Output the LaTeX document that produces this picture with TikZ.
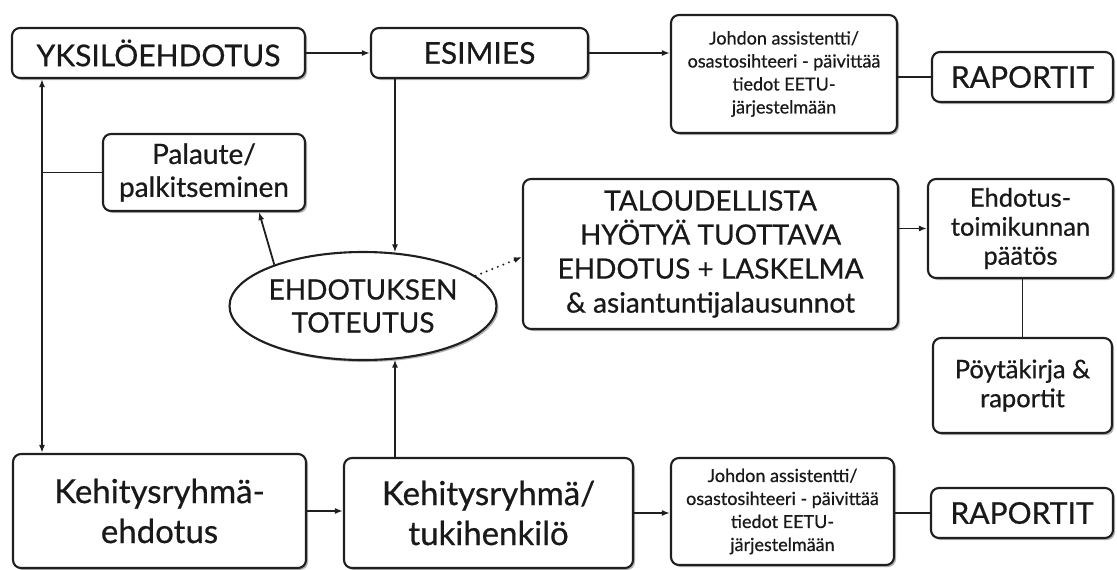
\documentclass[tikz,border=0pt]{standalone}
\usepackage{fontspec}
\setmainfont{Lato}[FakeBold=0.6]
\usetikzlibrary{arrows.meta,shapes.geometric,shadows}
\begin{document}
\begin{tikzpicture}[x=1pt,y=-1pt,
  box/.style={draw=black!88, line width=2.1pt, rounded corners=8pt, fill=white,
    align=center, inner sep=0pt, text=black!90,
    drop shadow={shadow xshift=2pt, shadow yshift=-2pt, opacity=0.3, fill=black}},
  oval/.style={box, ellipse, rounded corners=0pt},
  arr/.style={draw=black!88, line width=1.8pt, -{Latex[length=8pt,width=6pt]}},
  biarr/.style={draw=black!88, line width=1.8pt, {Latex[length=8pt,width=6pt]}-{Latex[length=8pt,width=6pt]}},
  link/.style={draw=black!88, line width=1.8pt},
  dots/.style={draw=black!88, line width=2.2pt, line cap=round, dash pattern=on 0pt off 6pt, -{Latex[length=8pt,width=6pt]}},
  big/.style={font=\fontsize{33}{40}\selectfont},
  head/.style={font=\fontsize{30}{34}\selectfont},
  mid/.style={font=\fontsize{28}{33}\selectfont},
  small/.style={font=\fontsize{25.5}{29}\selectfont},
  tiny/.style={font=\fontsize{18}{23}\selectfont}]
\useasboundingbox (0,0) rectangle (1117,570);

% top row
\node[box, head, minimum width=293pt, minimum height=50pt] (yks) at (158.5,53) {YKSILÖEHDOTUS};
\node[box, head, minimum width=217pt, minimum height=50pt] (esi) at (479.5,53) {ESIMIES};
\node[box, tiny, minimum width=226pt, minimum height=118pt] (joh1) at (784,74)
  {Johdon assistentti/\\osastosihteeri - päivittää\\tiedot EETU-\\järjestelmään};
\node[box, head, minimum width=181pt, minimum height=50pt] (rap1) at (1022.5,77) {RAPORTIT};

% middle
\node[box, mid, minimum width=202pt, minimum height=77pt] (pal) at (204,172.5) {Palaute/\\palkitseminen};
\node[oval, mid, minimum width=261pt, minimum height=108pt] (ell) at (363,306) {EHDOTUKSEN\\TOTEUTUS};
\node[box, font=\fontsize{28}{34}\selectfont, minimum width=375pt, minimum height=150pt] (tal) at (710.5,254)
  {TALOUDELLISTA\\HYÖTYÄ TUOTTAVA\\EHDOTUS + LASKELMA\\\& asiantuntijalausunnot};
\node[box, small, minimum width=185pt, minimum height=99pt] (ehd) at (1020.5,228.5) {Ehdotus-\\toimikunnan\\päätös};
\node[box, small, minimum width=179pt, minimum height=95pt] (poy) at (1022.5,385.5) {Pöytäkirja \&\\raportit};

% bottom row
\node[box, big, minimum width=293pt, minimum height=114pt] (keh1) at (159.5,511) {Kehitysryhmä-\\ehdotus};
\node[box, big, minimum width=289pt, minimum height=110pt] (keh2) at (488.5,513) {Kehitysryhmä/\\tukihenkilö};
\node[box, tiny, minimum width=223pt, minimum height=107pt] (joh2) at (782.5,511.5)
  {Johdon assistentti/\\osastosihteeri - päivittää\\tiedot EETU-\\järjestelmään};
\node[box, head, minimum width=182pt, minimum height=50pt] (rap2) at (1022,513) {RAPORTIT};

% guide columns for the vertical connectors
\coordinate (lx) at (42,0);
\coordinate (cx) at (395,0);
\coordinate (px) at (259,0);

% connectors
\draw[arr] (yks) -- (esi);
\draw[arr] (esi.east) -- (esi.east -| joh1.west);
\draw[link] (rap1.west -| joh1.east) -- (rap1.west);
\draw[biarr] (lx |- yks.south) -- (lx |- keh1.north);
\draw[link] (lx |- pal.west) -- (pal.west);
\draw[arr] (cx |- esi.south) -- ([yshift=-1.5pt]cx |- ell.north);
\draw[arr] (cx |- keh2.north) -- ([yshift=1.5pt]cx |- ell.south);
\draw[arr] (ell.155) -- (px |- pal.south);
\draw[dots] (ell.15) -- ([yshift=-3pt]tal.west);
\draw[arr] (ehd.west -| tal.east) -- (ehd.west);
\draw[link] (poy.north |- ehd.south) -- (poy.north);
\draw[arr] (keh1.east) -- (keh1.east -| keh2.west);
\draw[arr] (keh2.east) -- (keh2.east -| joh2.west);
\draw[link] (joh2.east |- rap2.west) -- (rap2.west);
\end{tikzpicture}
\end{document}
